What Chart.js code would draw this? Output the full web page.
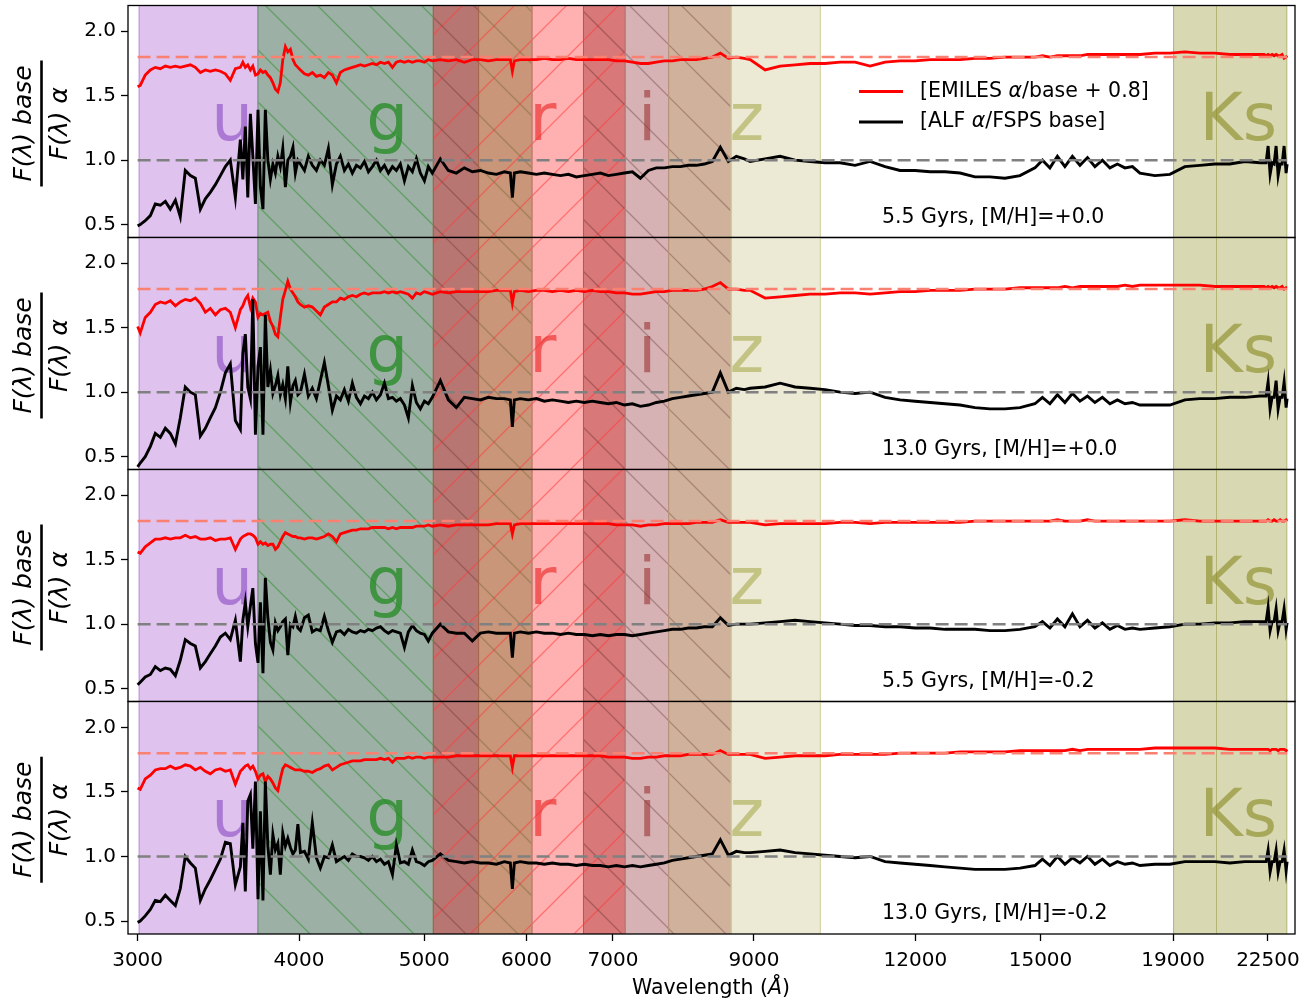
<!DOCTYPE html>
<html><head><meta charset="utf-8">
<script src="https://cdn.jsdelivr.net/npm/chart.js@4.4.1/dist/chart.umd.min.js"></script>
<style>
html,body{margin:0;padding:0;background:#fff;overflow:hidden;}
#wrap{position:relative;width:1307px;height:1004px;background:#fff;}
canvas{position:absolute;left:0;top:0;}
</style></head><body><div id="wrap">
<canvas id="c0" width="1307" height="1004"></canvas>
<canvas id="c1" width="1307" height="1004"></canvas>
<canvas id="c2" width="1307" height="1004"></canvas>
<canvas id="c3" width="1307" height="1004"></canvas>
</div>
<script>
// ---------------- DATA ----------------
const wave = [
 3000,3014,3041,3069,3096,3124,3152,3180,3209,3237,3266,3296,3325,3355,3385,3415,3446,3477,3508,3539,3571,
 3603,3619,3635,3651,3668,3684,3701,3718,3734,3751,3767,3784,3801,3818,3835,3852,3869,3886,3904,3921,3939,3957,3974,3992,
 4010,4039,4067,4096,4126,4155,4185,4215,4245,4276,4306,4337,4368,4399,4431,4463,4495,4527,4559,4592,4625,4658,4691,4725,4758,4792,4827,4861,4896,4931,4966,5002,5037,
 5073,5146,5220,5295,5371,5448,5527,5606,5687,5768,5830,5851,5872,5935,6020,6107,6194,6283,6374,6465,6558,6652,6748,6845,6943,7043,7144,7247,7351,7456,7563,7672,7782,7894,8007,8122,8239,8357,8477,8599,8722,8847,
 8939,9181,9430,9685,9948,10217,10494,10778,11070,11370,11678,11994,12319,12652,12995,13346,13708,14079,14461,14852,
 15052,15254,15459,15667,15878,16093,16310,16528,16750,16976,17204,17436,17671,17908,
 18393,18891,19403,19928,20468,21022,21591,22187,
 22346,22426,22506,22586,22667,22748,22829,22911,22993,23075,23157,23240,23281
];

// panel 1: 5.5 Gyr, [M/H]=+0.0
const emiles_55_p00 = [
 1.57,1.58,1.66,1.70,1.72,1.71,1.73,1.72,1.73,1.72,1.73,1.74,1.72,1.68,1.70,1.69,1.70,1.69,1.67,1.62,1.71,
 1.72,1.76,1.72,1.74,1.70,1.73,1.66,1.67,1.70,1.68,1.69,1.66,1.64,1.60,1.55,1.53,1.60,1.78,1.88,1.84,1.86,1.78,1.74,1.72,
 1.70,1.67,1.66,1.68,1.65,1.66,1.64,1.68,1.66,1.60,1.68,1.70,1.71,1.72,1.73,1.74,1.73,1.74,1.75,1.74,1.76,1.75,1.76,1.72,1.76,1.77,1.76,1.77,1.76,1.77,1.77,1.76,1.78,
 1.77,1.78,1.77,1.78,1.76,1.78,1.78,1.77,1.78,1.78,1.78,1.69,1.77,
 1.78,1.78,1.78,1.79,1.78,1.78,1.79,1.78,1.78,1.78,1.78,1.78,1.77,1.77,1.76,1.75,1.75,1.76,1.77,1.77,1.78,1.78,1.78,1.79,1.80,1.83,1.79,1.80,1.79,
 1.78,1.70,1.73,1.74,1.75,1.75,1.76,1.76,1.73,1.76,1.77,1.77,1.78,1.78,1.78,1.79,1.79,1.80,1.80,1.80,
 1.81,1.80,1.81,1.81,1.81,1.81,1.82,1.82,1.82,1.82,1.82,1.82,1.82,1.82,
 1.83,1.83,1.84,1.83,1.83,1.82,1.82,1.82,
 1.82,1.81,1.82,1.81,1.82,1.81,1.82,1.81,1.81,1.82,1.79,1.80,1.81
];
const alf_55_p00 = [
 0.49,0.50,0.53,0.57,0.66,0.65,0.68,0.62,0.69,0.56,0.92,0.88,0.86,0.62,0.70,0.75,0.81,0.88,0.95,1.00,0.71,
 1.16,0.85,1.26,0.71,1.36,1.03,0.66,1.39,0.79,0.62,1.39,1.00,0.85,0.97,0.90,1.03,0.95,1.09,0.79,1.00,1.03,1.10,0.90,1.00,
 0.97,0.92,1.03,0.96,0.92,1.00,0.96,1.09,0.81,0.97,1.03,0.92,0.97,0.90,0.96,0.94,0.99,0.91,0.95,1.00,0.92,0.96,0.90,0.95,0.92,0.97,0.84,0.95,0.91,1.01,0.90,0.84,0.95,
 0.90,1.01,0.92,0.90,0.94,0.91,0.92,0.90,0.89,0.91,0.90,0.71,0.90,
 0.91,0.90,0.89,0.90,0.89,0.88,0.89,0.87,0.88,0.89,0.90,0.88,0.89,0.90,0.91,0.86,0.92,0.94,0.94,0.95,0.95,0.96,0.96,0.97,0.99,1.10,0.99,1.03,1.01,
 0.99,1.01,1.03,1.00,0.99,0.98,0.98,0.96,0.99,0.95,0.92,0.92,0.91,0.91,0.90,0.87,0.87,0.86,0.88,0.94,
 1.00,0.94,1.03,0.95,1.03,0.96,1.02,0.95,1.00,0.94,0.97,0.94,0.95,0.90,
 0.88,0.89,0.95,0.96,0.97,0.97,0.99,0.98,
 0.98,0.98,1.11,0.89,0.98,0.97,1.11,0.88,0.97,0.97,1.11,0.90,0.97
];

// panel 2: 13.0 Gyr, [M/H]=+0.0
const emiles_130_p00 = [
 1.51,1.46,1.58,1.62,1.68,1.70,1.69,1.71,1.67,1.70,1.72,1.71,1.73,1.69,1.62,1.65,1.60,1.64,1.65,1.62,1.50,
 1.64,1.67,1.72,1.75,1.66,1.73,1.70,1.58,1.61,1.60,1.61,1.62,1.55,1.51,1.45,1.43,1.58,1.72,1.79,1.86,1.80,1.77,1.74,1.70,
 1.68,1.66,1.67,1.66,1.63,1.60,1.66,1.68,1.70,1.70,1.73,1.72,1.74,1.75,1.74,1.76,1.77,1.76,1.77,1.77,1.77,1.78,1.77,1.78,1.77,1.78,1.77,1.76,1.73,1.77,1.76,1.78,1.77,
 1.76,1.78,1.77,1.78,1.78,1.78,1.78,1.78,1.79,1.79,1.79,1.69,1.78,
 1.79,1.78,1.79,1.79,1.78,1.79,1.78,1.79,1.78,1.79,1.78,1.78,1.77,1.77,1.76,1.76,1.77,1.78,1.78,1.79,1.79,1.79,1.79,1.80,1.82,1.85,1.80,1.80,1.79,
 1.79,1.73,1.74,1.75,1.76,1.76,1.77,1.77,1.76,1.77,1.78,1.78,1.79,1.79,1.79,1.80,1.80,1.80,1.81,1.81,
 1.81,1.81,1.81,1.82,1.81,1.82,1.82,1.82,1.82,1.82,1.82,1.83,1.82,1.83,
 1.83,1.83,1.83,1.83,1.82,1.82,1.82,1.82,
 1.82,1.81,1.82,1.81,1.82,1.81,1.82,1.81,1.81,1.82,1.80,1.81,1.81
];
const alf_130_p00 = [
 0.42,0.45,0.50,0.58,0.68,0.65,0.72,0.68,0.60,0.80,1.04,1.00,0.98,0.66,0.72,0.80,0.88,1.00,1.15,1.22,0.78,
 0.71,1.30,1.45,1.04,0.95,1.72,0.67,1.20,1.35,0.67,1.60,1.04,1.17,0.99,1.05,1.13,0.98,1.06,0.95,1.20,0.92,1.05,1.09,0.98,
 1.00,1.14,0.97,1.03,0.95,1.09,1.23,1.05,0.86,0.97,0.94,1.02,0.93,1.07,0.96,0.91,0.97,0.95,1.00,0.94,0.98,1.07,0.95,0.96,0.93,0.95,0.90,0.80,1.05,0.92,0.87,0.93,0.91,
 0.96,1.09,0.94,0.88,0.96,0.95,0.94,0.96,0.95,0.95,0.94,0.73,0.94,
 0.95,0.94,0.95,0.93,0.94,0.93,0.92,0.93,0.92,0.93,0.92,0.91,0.92,0.90,0.91,0.89,0.90,0.92,0.93,0.95,0.96,0.97,0.98,0.99,1.00,1.15,1.00,1.03,1.02,
 1.03,1.04,1.07,1.04,1.03,1.02,1.00,0.99,1.00,0.96,0.94,0.93,0.92,0.91,0.90,0.88,0.87,0.87,0.88,0.91,
 0.96,0.91,0.98,0.92,0.99,0.93,0.97,0.92,0.96,0.91,0.94,0.91,0.92,0.90,
 0.90,0.90,0.94,0.95,0.95,0.96,0.96,0.97,
 0.97,0.97,1.08,0.87,0.96,0.96,1.09,0.87,0.96,0.96,1.08,0.88,0.95
];

// panel 3: 5.5 Gyr, [M/H]=-0.2
const emiles_55_m02 = [
 1.56,1.55,1.60,1.63,1.66,1.66,1.67,1.66,1.67,1.67,1.69,1.67,1.68,1.66,1.66,1.67,1.65,1.66,1.66,1.67,1.58,
 1.66,1.68,1.69,1.70,1.70,1.69,1.67,1.62,1.64,1.62,1.63,1.61,1.62,1.62,1.58,1.60,1.64,1.68,1.71,1.70,1.69,1.68,1.68,1.67,
 1.67,1.66,1.67,1.67,1.66,1.67,1.68,1.70,1.68,1.64,1.70,1.71,1.72,1.73,1.73,1.74,1.74,1.74,1.75,1.75,1.75,1.75,1.74,1.75,1.74,1.75,1.75,1.75,1.75,1.76,1.76,1.76,1.77,
 1.76,1.77,1.76,1.77,1.77,1.77,1.77,1.77,1.78,1.78,1.78,1.70,1.77,
 1.78,1.78,1.78,1.78,1.78,1.78,1.78,1.78,1.78,1.78,1.78,1.78,1.77,1.77,1.77,1.76,1.77,1.77,1.78,1.78,1.78,1.78,1.79,1.79,1.79,1.81,1.79,1.79,1.79,
 1.79,1.77,1.78,1.78,1.78,1.78,1.79,1.79,1.78,1.79,1.79,1.79,1.79,1.79,1.79,1.80,1.80,1.80,1.80,1.80,
 1.80,1.80,1.81,1.80,1.80,1.80,1.81,1.80,1.80,1.80,1.80,1.80,1.80,1.80,
 1.80,1.80,1.81,1.80,1.80,1.80,1.80,1.80,
 1.80,1.80,1.81,1.80,1.80,1.81,1.80,1.80,1.81,1.80,1.80,1.81,1.80
];
const alf_55_m02 = [
 0.53,0.55,0.59,0.61,0.67,0.64,0.66,0.65,0.60,0.72,0.88,0.85,0.83,0.66,0.71,0.77,0.83,0.90,0.93,0.88,1.03,
 0.71,1.03,1.17,0.98,1.14,1.28,0.85,0.70,1.17,0.62,1.36,1.05,0.86,0.80,1.01,0.95,0.98,1.02,1.04,0.76,1.00,0.98,1.06,0.97,
 0.95,1.05,1.07,0.94,0.96,0.95,1.06,0.95,0.86,0.94,0.95,0.92,0.96,0.94,0.93,0.95,0.94,0.96,0.95,0.97,0.98,0.95,0.93,0.95,0.94,0.93,0.82,0.94,0.99,0.95,0.93,0.92,0.87,
 0.93,1.00,0.94,0.93,0.93,0.87,0.93,0.94,0.93,0.93,0.93,0.74,0.93,
 0.94,0.93,0.94,0.93,0.93,0.92,0.93,0.92,0.92,0.91,0.92,0.91,0.92,0.92,0.91,0.92,0.93,0.94,0.95,0.96,0.96,0.97,0.97,0.98,0.98,1.05,0.99,1.00,1.00,
 1.00,1.01,1.02,1.03,1.02,1.01,1.00,0.99,0.99,0.98,0.98,0.97,0.97,0.96,0.96,0.96,0.95,0.95,0.96,0.98,
 1.02,0.97,1.04,0.98,1.08,0.98,1.03,0.97,1.01,0.96,0.99,0.96,0.97,0.96,
 0.97,0.98,1.00,1.00,1.01,1.01,1.02,1.02,
 1.02,1.02,1.13,0.95,1.02,1.02,1.12,0.95,1.02,1.02,1.12,0.96,1.01
];

// panel 4: 13.0 Gyr, [M/H]=-0.2
const emiles_130_m02 = [
 1.53,1.52,1.60,1.63,1.67,1.68,1.68,1.70,1.68,1.69,1.71,1.70,1.67,1.69,1.66,1.64,1.67,1.68,1.66,1.67,1.56,
 1.66,1.68,1.70,1.71,1.68,1.70,1.66,1.60,1.63,1.64,1.58,1.62,1.60,1.57,1.53,1.51,1.60,1.68,1.71,1.70,1.69,1.68,1.67,1.67,
 1.67,1.66,1.66,1.65,1.67,1.68,1.70,1.71,1.67,1.69,1.71,1.72,1.73,1.74,1.74,1.74,1.75,1.75,1.75,1.75,1.76,1.75,1.76,1.73,1.76,1.76,1.76,1.77,1.76,1.77,1.77,1.76,1.77,
 1.77,1.77,1.77,1.78,1.78,1.78,1.78,1.78,1.78,1.78,1.78,1.69,1.78,
 1.78,1.78,1.78,1.78,1.78,1.78,1.78,1.78,1.78,1.78,1.78,1.77,1.77,1.77,1.76,1.76,1.77,1.77,1.78,1.78,1.78,1.79,1.79,1.79,1.79,1.82,1.79,1.79,1.79,
 1.79,1.76,1.77,1.78,1.78,1.78,1.79,1.79,1.79,1.79,1.80,1.80,1.80,1.80,1.81,1.81,1.81,1.81,1.82,1.82,
 1.82,1.82,1.82,1.82,1.83,1.82,1.83,1.83,1.83,1.83,1.83,1.83,1.83,1.83,
 1.84,1.84,1.84,1.84,1.84,1.83,1.83,1.83,
 1.83,1.83,1.83,1.82,1.83,1.83,1.83,1.82,1.83,1.83,1.83,1.82,1.83
];
const alf_130_m02 = [
 0.49,0.50,0.54,0.59,0.66,0.65,0.70,0.66,0.62,0.75,1.00,0.95,0.91,0.66,0.75,0.82,0.90,0.98,1.11,1.10,0.78,
 0.92,1.26,0.73,1.43,1.48,1.06,1.58,0.67,1.35,0.66,1.58,1.08,0.86,1.17,1.05,1.10,0.86,1.18,1.08,1.14,1.07,1.02,1.05,1.25,
 1.03,1.04,0.98,1.26,0.99,0.91,1.00,0.99,1.09,0.96,0.98,1.00,0.97,1.02,1.00,1.00,0.99,0.97,1.00,0.96,0.98,0.94,0.96,0.86,1.09,0.95,0.96,0.94,1.05,0.96,0.95,0.93,0.96,
 0.97,1.02,0.97,0.96,0.95,0.96,0.95,0.95,0.94,0.96,0.95,0.75,0.95,
 0.96,0.95,0.95,0.94,0.95,0.94,0.94,0.93,0.94,0.93,0.93,0.92,0.93,0.92,0.93,0.92,0.93,0.94,0.95,0.97,0.98,0.99,1.00,1.01,1.02,1.13,1.01,1.04,1.03,
 1.03,1.04,1.05,1.03,1.02,1.01,1.00,0.99,1.00,0.96,0.95,0.94,0.93,0.92,0.91,0.90,0.90,0.90,0.91,0.93,
 0.98,0.93,1.00,0.94,0.99,0.95,1.00,0.94,0.98,0.93,0.96,0.94,0.95,0.93,
 0.94,0.94,0.96,0.96,0.96,0.95,0.96,0.96,
 0.96,0.96,1.05,0.88,0.96,0.96,1.05,0.88,0.96,0.96,1.05,0.89,0.96
];

const panelLabels = ['5.5 Gyrs, [M/H]=+0.0','13.0 Gyrs, [M/H]=+0.0','5.5 Gyrs, [M/H]=-0.2','13.0 Gyrs, [M/H]=-0.2'];
const seriesLabels = ['[EMILES α/base + 0.8]','[ALF α/FSPS base]'];
const refLevels = [1.8, 1.0];
const xTicks = [3000,4000,5000,6000,7000,9000,12000,15000,19000,22500];
const yTicks = [0.5,1.0,1.5,2.0];
const xRange = [2949, 23611];
const yRange = [0.4, 2.2];
// filter bands (Angstrom)
const bandLo = [3008,3718,5082,5509,6059,6642,7155,7730,8639,19015,20528];
const bandHi = [3718,5082,5509,6059,6642,7155,7730,8639,10131,20528,23269];
const bandNames = ['u','g','r','i','z','Ks'];
const bandNameWave = [3550,4680,6177,7439,8887,21345];
const bandNameLevel = 1.155;

// ---------------- STYLE ----------------
const FONT = '"DejaVu Sans", "Liberation Sans", sans-serif';
const bandFill = ['#dfc2ee','#9db0a6','#b87672','#c9967a','#ffb0b0','#d97878','#d7b2b4','#d0b29c','#ece9d4','#d8d8b2','#d8d8b2'];
const bandFwd = [null,null,'rgba(255,60,60,0.55)','rgba(255,60,60,0.55)','rgba(255,60,60,0.55)','rgba(255,60,60,0.55)',null,null,null,null,null];
const bandBack = [null,'rgba(50,150,50,0.6)','rgba(110,60,55,0.45)','rgba(130,105,60,0.5)',null,'rgba(110,50,50,0.45)','rgba(120,80,80,0.5)','rgba(125,85,75,0.5)',null,null,null];
const bandEdge = ['#b48ad6','#5fa05f','#c84a4a','#a26a4c','#d08080','#b85656','#b88a8a','#b8947a','#d2ce9e','#b4b474','#b4b474'];
const nameColor = ['rgba(148,90,200,0.7)','rgba(40,140,40,0.8)','rgba(235,45,45,0.65)','rgba(150,40,40,0.55)','rgba(185,185,110,0.8)','rgba(130,130,20,0.55)'];

const tops = [5.5, 237.5, 469.5, 701.5];
const bottoms = [237.5, 469.5, 701.5, 934];

function hatch(ctx, x0, x1, top, bottom, dir, color) {
  const sp = 52;
  ctx.save();
  ctx.beginPath(); ctx.rect(x0, top, x1 - x0, bottom - top); ctx.clip();
  ctx.strokeStyle = color; ctx.lineWidth = 1.3;
  ctx.beginPath();
  if (dir === '\\') {
    let c = Math.floor((top - x1) / sp) * sp;
    for (; c <= bottom - x0; c += sp) { ctx.moveTo(x0, x0 + c); ctx.lineTo(x1, x1 + c); }
  } else {
    let c = Math.floor((x0 + top) / sp) * sp;
    for (; c <= x1 + bottom; c += sp) { ctx.moveTo(x0, c - x0); ctx.lineTo(x1, c - x1); }
  }
  ctx.stroke();
  ctx.restore();
}

function drawMixed(ctx, text, x, y, size) {
  const parts = text.split('α');
  let cx = x;
  parts.forEach((p, i) => {
    ctx.font = size + 'px ' + FONT;
    ctx.fillText(p, cx, y); cx += ctx.measureText(p).width;
    if (i < parts.length - 1) {
      ctx.font = 'italic ' + size + 'px ' + FONT;
      ctx.fillText('α', cx, y); cx += ctx.measureText('α').width;
    }
  });
}

function deco(k) {
  return {
    id: 'deco' + k,
    beforeDatasetsDraw(chart) {
      const { ctx, chartArea: a, scales: { x, y } } = chart;
      ctx.save();
      for (let i = 0; i < bandLo.length; i++) {
        const x0 = x.getPixelForValue(bandLo[i]), x1 = x.getPixelForValue(bandHi[i]);
        ctx.fillStyle = bandFill[i];
        ctx.fillRect(x0, a.top, x1 - x0, a.bottom - a.top);
        if (bandFwd[i]) hatch(ctx, x0, x1, a.top, a.bottom, '/', bandFwd[i]);
        if (bandBack[i]) hatch(ctx, x0, x1, a.top, a.bottom, '\\', bandBack[i]);
      }
      ctx.lineWidth = 1;
      for (let i = 0; i < bandLo.length; i++) {
        const x0 = x.getPixelForValue(bandLo[i]), x1 = x.getPixelForValue(bandHi[i]);
        ctx.strokeStyle = bandEdge[i];
        ctx.beginPath();
        ctx.moveTo(x0, a.top); ctx.lineTo(x0, a.bottom);
        ctx.moveTo(x1, a.top); ctx.lineTo(x1, a.bottom);
        ctx.stroke();
      }
      ctx.font = '66px ' + FONT;
      ctx.textAlign = 'center'; ctx.textBaseline = 'alphabetic';
      for (let i = 0; i < bandNames.length; i++) {
        ctx.fillStyle = nameColor[i];
        ctx.fillText(bandNames[i], x.getPixelForValue(bandNameWave[i]), y.getPixelForValue(bandNameLevel));
      }
      ctx.restore();
    },
    afterDatasetsDraw(chart) {
      const { ctx, chartArea: a } = chart;
      ctx.save();
      ctx.fillStyle = '#000';
      ctx.textAlign = 'left'; ctx.textBaseline = 'middle';
      ctx.font = '20.5px ' + FONT;
      ctx.fillText(panelLabels[k], a.left + 754, a.bottom - 20);
      if (k === 0) {
        const lc = ['#ff0000', '#000000'];
        for (let i = 0; i < 2; i++) {
          const ly = a.top + 86 + i * 30.5;
          ctx.strokeStyle = lc[i]; ctx.lineWidth = 2.8;
          ctx.beginPath(); ctx.moveTo(a.left + 731, ly); ctx.lineTo(a.left + 775, ly); ctx.stroke();
          ctx.fillStyle = '#000';
          drawMixed(ctx, seriesLabels[i], a.left + 792, ly, 20.5);
        }
      }
      ctx.strokeStyle = '#000'; ctx.lineWidth = 1.3;
      ctx.strokeRect(a.left, a.top, a.right - a.left, a.bottom - a.top);
      ctx.restore();
    },
    afterDraw(chart) {
      const { ctx, chartArea: a } = chart;
      ctx.save();
      ctx.fillStyle = '#000';
      const cy = (a.top + a.bottom) / 2 + 2;
      ctx.translate(41.5, cy); ctx.rotate(-Math.PI / 2);
      ctx.textAlign = 'center'; ctx.textBaseline = 'alphabetic';
      ctx.font = 'italic 25px ' + FONT;
      ctx.fillText('F(λ) base', 0, -11);
      ctx.fillRect(-63, -1.3, 126, 2.6);
      ctx.fillText('F(λ) α', 0, 25);
      ctx.restore();
      if (k === 3) {
        ctx.save();
        ctx.fillStyle = '#000'; ctx.textBaseline = 'middle'; ctx.textAlign = 'left';
        const p1 = 'Wavelength (', p2 = 'Å', p3 = ')';
        ctx.font = '20.5px ' + FONT; const w1 = ctx.measureText(p1).width, w3 = ctx.measureText(p3).width;
        ctx.font = 'italic 20.5px ' + FONT; const w2 = ctx.measureText(p2).width;
        let sx = 711 - (w1 + w2 + w3) / 2;
        ctx.font = '20.5px ' + FONT; ctx.fillText(p1, sx, 989); sx += w1;
        ctx.font = 'italic 20.5px ' + FONT; ctx.fillText(p2, sx, 989); sx += w2;
        ctx.font = '20.5px ' + FONT; ctx.fillText(p3, sx, 989);
        ctx.restore();
      }
    }
  };
}

const panels = [
  { emiles: emiles_55_p00, alf: alf_55_p00 },
  { emiles: emiles_130_p00, alf: alf_130_p00 },
  { emiles: emiles_55_m02, alf: alf_55_m02 },
  { emiles: emiles_130_m02, alf: alf_130_m02 }
];
const toXY = arr => wave.map((w, i) => ({ x: w, y: arr[i] }));
const refLine = v => [{ x: wave[0], y: v }, { x: wave[wave.length - 1], y: v }];

panels.forEach((p, k) => {
  const last = k === 3;
  new Chart(document.getElementById('c' + k), {
    type: 'line',
    data: {
      datasets: [
        { data: refLine(refLevels[0]), borderColor: '#fa8072', borderWidth: 2.5, borderDash: [13, 6], pointRadius: 0 },
        { data: refLine(refLevels[1]), borderColor: '#808080', borderWidth: 2.5, borderDash: [13, 6], pointRadius: 0 },
        { data: toXY(p.alf), borderColor: '#000000', borderWidth: 2.9, pointRadius: 0, tension: 0 },
        { data: toXY(p.emiles), borderColor: '#ff0000', borderWidth: 2.8, pointRadius: 0, tension: 0 }
      ]
    },
    options: {
      responsive: false, animation: false, devicePixelRatio: 1,
      events: [],
      layout: { padding: { left: 0, right: 12, top: tops[k], bottom: last ? 0 : 1004 - bottoms[k] } },
      plugins: { legend: { display: false }, tooltip: { enabled: false } },
      scales: {
        x: {
          type: 'logarithmic', min: xRange[0], max: xRange[1], bounds: 'data', display: last,
          afterBuildTicks: s => { s.ticks = xTicks.map(v => ({ value: v })); },
          afterFit: s => { if (last) s.height = 70; else s.height = 0; s.paddingLeft = 0; s.paddingRight = 0; },
          grid: { display: true, drawOnChartArea: false, drawTicks: true, tickLength: 7, tickWidth: 1.3, tickColor: '#000' },
          border: { display: false },
          ticks: { autoSkip: false, maxRotation: 0, minRotation: 0, padding: 8, color: '#000', font: { family: FONT, size: 20 }, callback: v => String(v) }
        },
        y: {
          type: 'linear', min: yRange[0], max: yRange[1], bounds: 'data',
          afterBuildTicks: s => { s.ticks = yTicks.map(v => ({ value: v })); },
          afterFit: s => { s.width = 128; s.paddingTop = 0; s.paddingBottom = 0; },
          grid: { display: true, drawOnChartArea: false, drawTicks: true, tickLength: 7, tickWidth: 1.3, tickColor: '#000' },
          border: { display: false },
          ticks: { padding: 5, color: '#000', font: { family: FONT, size: 20 }, callback: v => Number(v).toFixed(1) }
        }
      }
    },
    plugins: [deco(k)]
  });
});
</script>
</body></html>
